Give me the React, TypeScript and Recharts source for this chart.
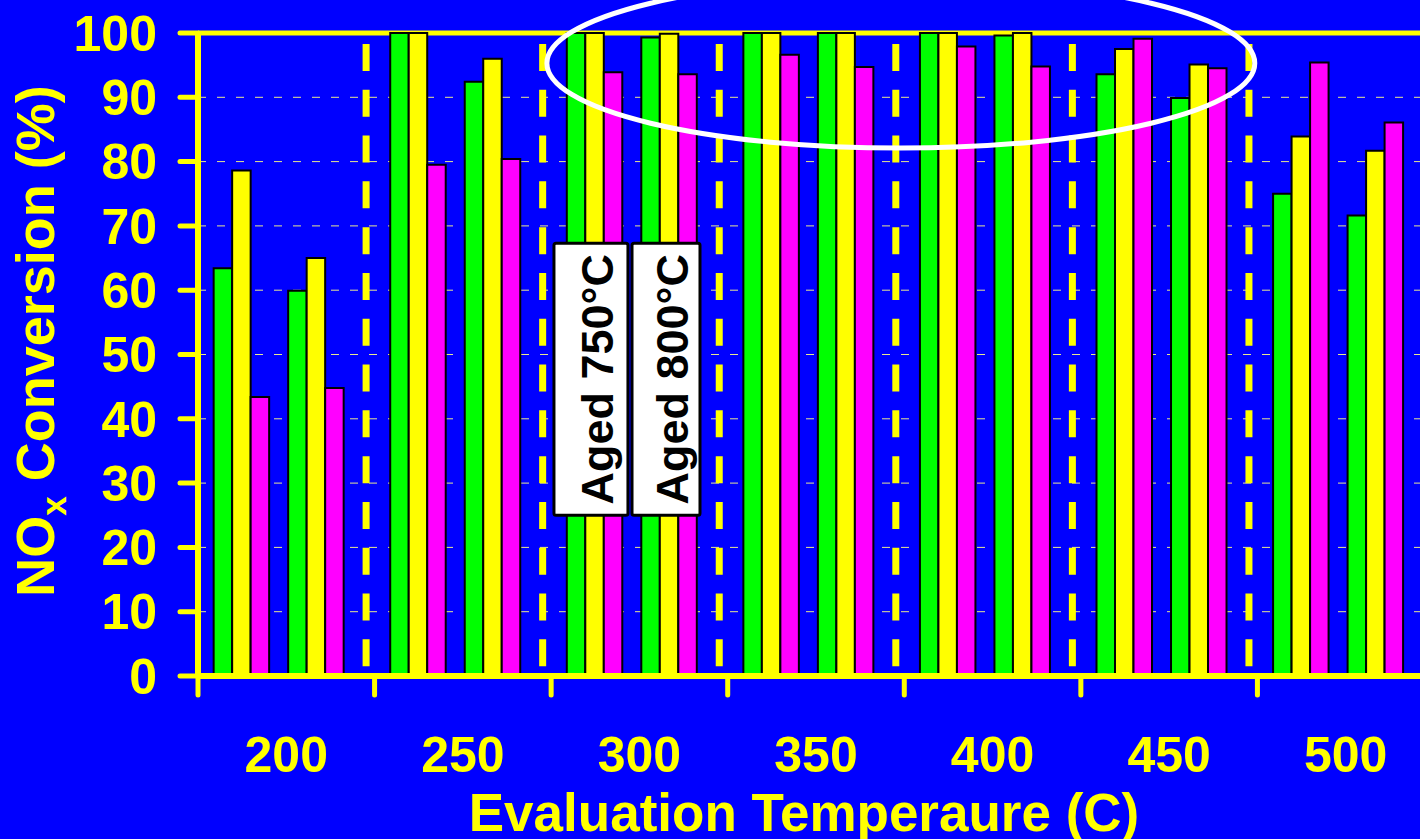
import React from 'react';
import {
  BarChart,
  Bar,
  XAxis,
  YAxis,
  CartesianGrid,
  ReferenceLine,
  ReferenceArea,
  Label,
} from 'recharts';

// Evaluation temperatures (°C), one band per temperature
const temperatures = ['200', '250', '300', '350', '400', '450', '500'];

// NOx conversion (%) after ageing at 750 °C, three formulations
const aged750A = [63.4, 100, 100, 100, 100, 93.6, 75.0];
const aged750B = [78.6, 100, 100, 100, 100, 97.5, 83.9];
const aged750C = [43.4, 79.5, 93.9, 96.6, 97.9, 99.1, 95.4];

// NOx conversion (%) after ageing at 800 °C, same three formulations
const aged800A = [59.9, 92.4, 99.3, 100, 99.6, 89.9, 71.6];
const aged800B = [65.0, 96.0, 99.9, 100, 100, 95.1, 81.7];
const aged800C = [44.8, 80.4, 93.6, 94.7, 94.8, 94.5, 86.1];

const yTicks = [0, 10, 20, 30, 40, 50, 60, 70, 80, 90, 100];
const agingLabels = ['Aged 750°C', 'Aged 800°C'];

// ---- layout (band units on the x axis: one unit per temperature) ----
const CLUSTER_OFFSETS = [0.243, 0.665];
const DIVIDER_OFFSET = 0.952;
const FONT = '"Liberation Sans", Arial, Helvetica, sans-serif';
const YELLOW = '#ffff00';
const BLUE = '#0000ff';

const rows = temperatures.flatMap((t, i) => [
  { pos: i + CLUSTER_OFFSETS[0], temp: t, a: aged750A[i], b: aged750B[i], c: aged750C[i] },
  { pos: i + CLUSTER_OFFSETS[1], temp: t, a: aged800A[i], b: aged800B[i], c: aged800C[i] },
]);

// tick marks on band edges, temperature labels on band centres
const xTicks: number[] = [];
for (let i = 0; i <= temperatures.length; i++) {
  xTicks.push(i);
  if (i < temperatures.length) xTicks.push(i + 0.5);
}
const dividers = temperatures.slice(0, -1).map((_, i) => i + DIVIDER_OFFSET);

function XTick(props: any) {
  const { x, y, payload } = props;
  const v = payload.value as number;
  if (Number.isInteger(v)) {
    return (
      <line x1={x} x2={x} y1={y} y2={y + 19} stroke={YELLOW} strokeWidth={5} strokeLinecap="round" />
    );
  }
  return (
    <text
      x={x}
      y={y + 96}
      textAnchor="middle"
      fill={YELLOW}
      fontSize={50}
      fontWeight="bold"
      fontFamily={FONT}
    >
      {temperatures[Math.floor(v)]}
    </text>
  );
}

function YTitle(props: any) {
  const vb = props.viewBox || { x: 0, y: 33, width: 198, height: 643 };
  const px = vb.x + 54;
  const py = vb.y + 308;
  return (
    <text
      x={px}
      y={py}
      transform={`rotate(-90, ${px}, ${py})`}
      textAnchor="middle"
      fill={YELLOW}
      fontSize={54}
      fontWeight="bold"
      fontFamily={FONT}
    >
      NO
      <tspan fontSize={35} dy={12}>x</tspan>
      <tspan dy={-12}> Conversion (%)</tspan>
    </text>
  );
}

function XTitle(props: any) {
  const vb = props.viewBox || { x: 198, y: 676, width: 1236, height: 163 };
  return (
    <text
      x={vb.x + vb.width / 2 - 12}
      y={vb.y + 155}
      textAnchor="middle"
      fill={YELLOW}
      fontSize={53}
      fontWeight="bold"
      fontFamily={FONT}
    >
      Evaluation Temperaure (C)
    </text>
  );
}

function ellipseShape(props: any) {
  const { x, y, width, height } = props;
  return (
    <ellipse
      cx={x + width / 2}
      cy={y + height / 2}
      rx={Math.abs(width) / 2}
      ry={Math.abs(height) / 2}
      fill="none"
      stroke="#ffffff"
      strokeWidth={5}
    />
  );
}

function agingBox(text: string) {
  return (props: any) => {
    const { x, y, width, height } = props;
    const cx = x + width / 2;
    const cy = y + height / 2;
    const bx = cx + 22;
    return (
      <g>
        <rect x={x} y={y} width={width} height={height} fill="#ffffff" stroke="#000000" strokeWidth={3} rx={2} />
        <text
          x={bx}
          y={cy}
          transform={`rotate(-90, ${bx}, ${cy})`}
          textAnchor="middle"
          fill="#000000"
          fontSize={45}
          fontWeight="bold"
          fontFamily={FONT}
        >
          {text}
        </text>
      </g>
    );
  };
}

export default function App() {
  return (
    <div
      style={{
        position: 'absolute',
        left: 0,
        top: 0,
        width: 1420,
        height: 839,
        overflow: 'hidden',
        background: BLUE,
      }}
    >
      <BarChart
        width={1450}
        height={839}
        data={rows}
        margin={{ top: 33, right: 16, bottom: 0, left: 0 }}
        barGap={0}
        barSize={18.5}
      >
        <CartesianGrid
          vertical={false}
          stroke="#e8e890"
          strokeWidth={1}
          strokeDasharray="8 11"
        />
        <XAxis
          type="number"
          dataKey="pos"
          domain={[0, temperatures.length]}
          ticks={xTicks}
          interval={0}
          height={163}
          tickSize={0}
          tickMargin={0}
          tickLine={false}
          axisLine={{ stroke: YELLOW, strokeWidth: 6 }}
          tick={<XTick />}
        >
          <Label content={XTitle} />
        </XAxis>
        <YAxis
          type="number"
          domain={[0, 100]}
          ticks={yTicks}
          interval={0}
          width={198}
          tickSize={18}
          tickMargin={23}
          axisLine={{ stroke: YELLOW, strokeWidth: 6 }}
          tickLine={{ stroke: YELLOW, strokeWidth: 5, strokeLinecap: 'round' }}
          tick={{ fill: YELLOW, fontSize: 50, fontWeight: 'bold', fontFamily: FONT }}
        >
          <Label content={YTitle} />
        </YAxis>
        {/* top frame line sits beneath the bars */}
        <ReferenceLine y={100} stroke={YELLOW} strokeWidth={5} zIndex={250} />
        <Bar dataKey="a" fill="#00ff00" stroke="#000000" strokeWidth={2} isAnimationActive={false} />
        <Bar dataKey="b" fill="#ffff00" stroke="#000000" strokeWidth={2} isAnimationActive={false} />
        <Bar dataKey="c" fill="#ff00ff" stroke="#000000" strokeWidth={2} isAnimationActive={false} />
        {dividers.map((d) => (
          <ReferenceLine
            key={d}
            segment={[
              { x: d, y: 98.3 },
              { x: d, y: 1.4 },
            ]}
            stroke={YELLOW}
            strokeWidth={7}
            strokeDasharray="27 18.8"
          />
        ))}
        <ReferenceArea
          x1={1.976}
          x2={5.985}
          y1={82.1}
          y2={108.5}
          ifOverflow="visible"
          shape={ellipseShape}
          zIndex={1500}
        />
        <ReferenceArea
          x1={2.016}
          x2={2.435}
          y1={25.0}
          y2={67.3}
          ifOverflow="visible"
          shape={agingBox(agingLabels[0])}
          zIndex={1500}
        />
        <ReferenceArea
          x1={2.458}
          x2={2.843}
          y1={25.0}
          y2={67.3}
          ifOverflow="visible"
          shape={agingBox(agingLabels[1])}
          zIndex={1500}
        />
      </BarChart>
    </div>
  );
}
